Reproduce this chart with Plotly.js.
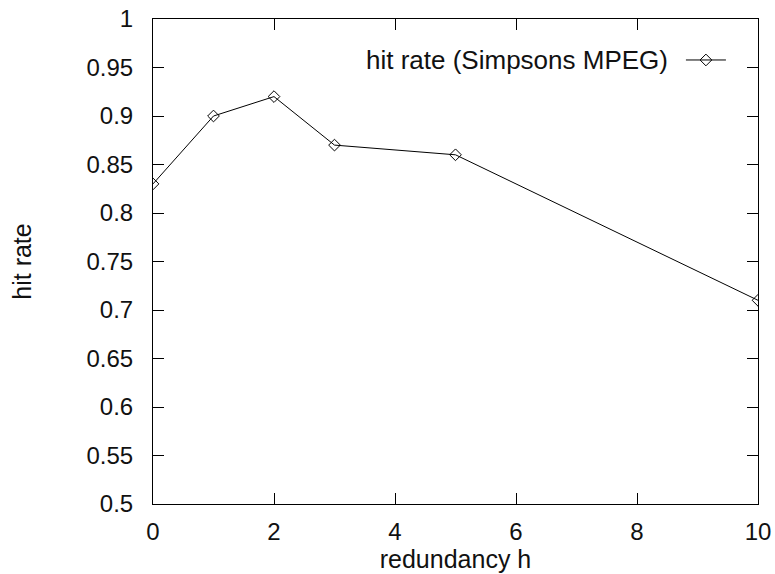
<!DOCTYPE html>
<html>
<head>
<meta charset="utf-8">
<script src="https://cdn.plot.ly/plotly-3.0.1.min.js"></script>
<style>html,body{margin:0;padding:0;background:#fff;}</style>
</head>
<body>
<div id="chart" style="width:775px;height:574px;"></div>
<script>
const redundancy = [0, 1, 2, 3, 5, 10];
const hitRate = [0.83, 0.90, 0.92, 0.87, 0.86, 0.71];
const seriesName = "hit rate (Simpsons MPEG)";
const yTickVals = [0.5, 0.55, 0.6, 0.65, 0.7, 0.75, 0.8, 0.85, 0.9, 0.95, 1];
const yTickText = ["0.5", "0.55", "0.6", "0.65", "0.7", "0.75", "0.8", "0.85", "0.9", "0.95", "1"];
const xTickVals = [0, 2, 4, 6, 8, 10];
const xTickText = ["0", "2", "4", "6", "8", "10"];

const fam = "Liberation Sans, Arial, sans-serif";
const tickFont = {family: fam, size: 24, color: "#111"};
const textFont = {family: fam, size: 25, color: "#111"};
const legendTextFont = {family: fam, size: 26, color: "#111"};

const trace = {
  x: redundancy, y: hitRate, name: "",
  type: "scatter", mode: "lines+markers",
  line: {color: "#000", width: 1},
  marker: {symbol: "diamond-open", size: 9, color: "#000", line: {width: 1, color: "#000"}}
};

const layout = {
  width: 775, height: 574,
  margin: {l: 153, r: 17, t: 19, b: 70},
  paper_bgcolor: "#fff", plot_bgcolor: "#fff",
  font: tickFont,
  showlegend: true,
  legend: {x: 0.8726, y: 0.915, xanchor: "left", yanchor: "middle", bgcolor: "rgba(0,0,0,0)",
           font: textFont, itemwidth: 40},
  annotations: [{
    xref: "paper", yref: "paper", x: 0.8545, y: 0.915, xanchor: "right", yanchor: "middle",
    text: seriesName, showarrow: false, font: legendTextFont
  }],
  xaxis: {
    range: [0, 10], tickvals: xTickVals, ticktext: xTickText,
    ticks: "inside", ticklen: 11, tickcolor: "#000", tickwidth: 1,
    showline: true, linecolor: "#000", linewidth: 1, mirror: "ticks",
    showgrid: false, zeroline: false, ticklabelstandoff: 6, tickfont: tickFont,
    title: {text: "redundancy h", font: textFont, standoff: 2},
    automargin: false
  },
  yaxis: {
    range: [0.5, 1], tickvals: yTickVals, ticktext: yTickText,
    ticks: "inside", ticklen: 11, tickcolor: "#000", tickwidth: 1,
    showline: true, linecolor: "#000", linewidth: 1, mirror: "ticks",
    showgrid: false, zeroline: false, ticklabelstandoff: 14, tickfont: tickFont,
    title: {text: "hit rate", font: textFont, standoff: 47},
    automargin: false
  }
};

Plotly.newPlot("chart", [trace], layout, {displayModeBar: false, staticPlot: true});
</script>
</body>
</html>
